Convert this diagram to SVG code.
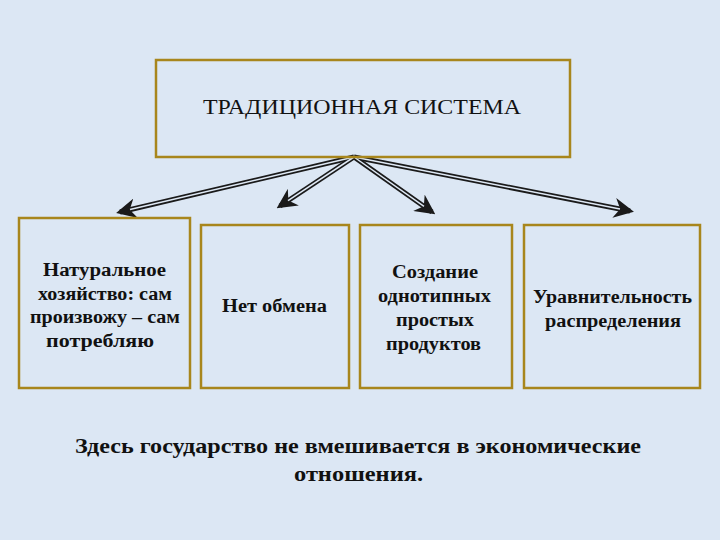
<svg xmlns="http://www.w3.org/2000/svg" width="720" height="540" viewBox="0 0 720 540">
<defs>
<style>
.box{fill:none;stroke:#a8861c;stroke-width:2.5}
.t{font-family:'Liberation Serif','DejaVu Serif',serif;font-size:18px;font-weight:bold;fill:#111;text-anchor:middle}
.n{font-size:21px}
.a1{stroke:#1a1a1a;stroke-width:5;fill:none}
.a2{stroke:#dfe9f5;stroke-width:1.5;fill:none}
</style>
<marker id="ah" viewBox="0 0 10 10" refX="8" refY="5" markerWidth="4" markerHeight="4" orient="auto" markerUnits="strokeWidth">
<path d="M0,0 L10,5 L0,10 L3,5 Z" fill="#1a1a1a"/>
</marker>
</defs>
<rect width="720" height="540" fill="#dce7f4"/>
<g id="connectors">
<line class="a1" x1="354" y1="157" x2="120" y2="212" marker-end="url(#ah)"/>
<line class="a1" x1="354" y1="157" x2="280" y2="206" marker-end="url(#ah)"/>
<line class="a1" x1="354" y1="157" x2="432" y2="212" marker-end="url(#ah)"/>
<line class="a1" x1="354" y1="157" x2="630" y2="211" marker-end="url(#ah)"/>
<line class="a2" x1="354" y1="157" x2="130" y2="209.6"/>
<line class="a2" x1="354" y1="157" x2="288" y2="200.7"/>
<line class="a2" x1="354" y1="157" x2="424" y2="206.3"/>
<line class="a2" x1="354" y1="157" x2="620" y2="209"/>
</g>
<g id="top"><rect class="box" x="156" y="60" width="414" height="97"/>
<text x="362" y="114" font-family="'Liberation Serif',serif" font-size="20" text-anchor="middle" fill="#111" textLength="318" lengthAdjust="spacingAndGlyphs">ТРАДИЦИОННАЯ СИСТЕМА</text></g>
<g id="n1"><rect class="box" x="19" y="218" width="171" height="170"/>
<text class="t" x="104.5" y="276" textLength="123" lengthAdjust="spacingAndGlyphs">Натуральное</text><text class="t" x="105" y="300" textLength="134" lengthAdjust="spacingAndGlyphs">хозяйство: сам</text><text class="t" x="105" y="323" textLength="150" lengthAdjust="spacingAndGlyphs">произвожу – сам</text><text class="t" x="100" y="347" textLength="108" lengthAdjust="spacingAndGlyphs">потребляю</text></g>
<g id="n2"><rect class="box" x="201" y="225" width="148" height="163"/>
<text class="t" x="274.5" y="312" textLength="105" lengthAdjust="spacingAndGlyphs">Нет обмена</text></g>
<g id="n3"><rect class="box" x="360" y="225" width="152" height="163"/>
<text class="t" x="435" y="278" textLength="86" lengthAdjust="spacingAndGlyphs">Создание</text><text class="t" x="434.5" y="302" textLength="113" lengthAdjust="spacingAndGlyphs">однотипных</text><text class="t" x="435" y="326" textLength="78" lengthAdjust="spacingAndGlyphs">простых</text><text class="t" x="433.5" y="350" textLength="95" lengthAdjust="spacingAndGlyphs">продуктов</text></g>
<g id="n4"><rect class="box" x="524" y="225" width="176" height="163"/>
<text class="t" x="612.5" y="303" textLength="159" lengthAdjust="spacingAndGlyphs">Уравнительность</text><text class="t" x="613" y="327" textLength="136" lengthAdjust="spacingAndGlyphs">распределения</text></g>
<g id="note">
<text class="t n" x="358" y="453" textLength="566" lengthAdjust="spacingAndGlyphs">Здесь государство не вмешивается в экономические</text>
<text class="t n" x="358.5" y="481" textLength="129" lengthAdjust="spacingAndGlyphs">отношения.</text></g>
</svg>
